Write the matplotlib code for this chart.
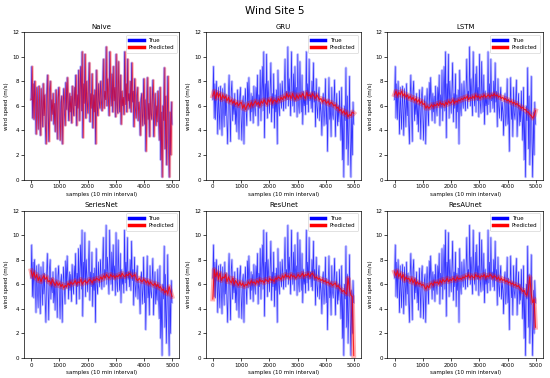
import numpy as np
import matplotlib.pyplot as plt

# true wind speed, one value every 25 samples
true_speed = [
    6.5, 9.2, 5.0, 7.8, 4.9, 8.0, 6.2, 3.7, 7.5, 5.5,
    4.1, 7.6, 5.8, 3.6, 7.4, 6.0, 4.3, 7.8, 5.2, 6.9,
    4.5, 2.9, 6.8, 8.5, 5.5, 3.1, 7.2, 8.0, 4.8, 6.5,
    5.3, 7.0, 4.5, 6.2, 3.9, 7.3, 5.8, 3.3, 6.7, 7.5,
    5.0, 3.2, 6.3, 6.8, 2.9, 5.9, 7.4, 5.6, 4.4, 7.9,
    5.7, 8.3, 6.4, 4.8, 7.0, 5.5, 6.8, 4.6, 7.6, 5.9,
    5.2, 7.5, 6.0, 8.5, 4.4, 6.9, 5.8, 8.9, 4.8, 7.3,
    9.2, 5.6, 10.4, 3.4, 7.8, 6.2, 10.2, 5.0, 8.0, 6.5,
    5.4, 7.6, 9.5, 4.7, 7.0, 5.8, 8.6, 4.2, 6.9, 5.5,
    7.3, 2.9, 8.9, 6.0, 5.2, 7.8, 6.4, 5.8, 8.0, 6.6,
    5.6, 7.5, 9.8, 5.8, 7.2, 6.5, 10.8, 6.0, 8.2, 6.8,
    5.2, 10.4, 7.0, 6.0, 8.6, 5.5, 9.2, 6.4, 7.5, 5.1,
    10.2, 6.2, 5.4, 9.6, 6.8, 5.5, 8.5, 4.5, 7.2, 6.0,
    6.7, 5.3, 10.4, 6.1, 7.8, 5.5, 9.8, 6.4, 7.0, 5.8,
    8.0, 5.5, 9.5, 6.3, 7.2, 4.3, 8.2, 6.0, 5.0, 6.8,
    7.5, 4.8, 6.3, 5.5, 3.6, 6.5, 7.0, 4.4, 5.6, 8.2,
    4.5, 6.5, 2.3, 5.8, 8.3, 4.9, 6.2, 3.5, 7.5, 5.4,
    4.9, 6.6, 8.1, 3.5, 5.5, 7.0, 4.4, 6.0, 4.7, 7.2,
    5.0, 3.2, 7.5, 1.6, 5.5, 0.2, 6.0, 4.8, 9.1, 2.5,
    6.8, 1.2, 4.0, 8.4, 3.0, 0.2, 5.5, 2.0, 6.3, 4.5,
]

# naive forecast = previous observation
naive_pred = [true_speed[0]] + true_speed[:-1]

# model predictions, one value every 50 samples
gru_pred = [
    6.8, 7.2, 6.6, 7.1, 6.7, 7.0, 6.5, 6.9, 6.6, 6.8,
    6.4, 6.7, 6.3, 6.5, 6.2, 6.4, 6.1, 6.3, 6.0, 6.2,
    6.3, 5.8, 6.1, 5.7, 6.0, 6.2, 5.9, 6.3, 6.0, 6.2,
    6.4, 6.1, 6.3, 6.0, 6.4, 6.2, 6.5, 6.3, 6.1, 6.5,
    6.3, 6.6, 6.2, 6.5, 6.4, 6.3, 6.6, 6.4, 6.7, 6.5,
    6.8, 6.6, 7.0, 6.7, 6.9, 6.6, 7.0, 6.7, 6.5, 6.9,
    6.6, 6.9, 6.7, 7.0, 6.8, 6.6, 7.1, 6.8, 6.9, 6.7,
    7.0, 6.8, 6.6, 6.9, 6.7, 6.5, 6.6, 6.3, 6.5, 6.4,
    6.2, 6.4, 6.1, 6.3, 6.2, 6.0, 6.1, 5.8, 5.9, 5.6,
    5.7, 5.4, 5.6, 5.3, 5.5, 5.1, 5.3, 5.2, 5.5, 5.4,
]
lstm_pred = [
    6.9, 7.2, 6.8, 7.1, 6.9, 7.2, 6.8, 7.0, 6.7, 6.9,
    6.6, 6.8, 6.5, 6.7, 6.4, 6.6, 6.3, 6.5, 6.2, 6.4,
    6.1, 6.2, 5.8, 6.0, 5.8, 5.9, 6.1, 5.9, 6.1, 6.0,
    6.2, 6.0, 6.3, 6.1, 6.2, 6.0, 6.3, 6.1, 6.4, 6.2,
    6.3, 6.5, 6.2, 6.4, 6.3, 6.5, 6.4, 6.6, 6.5, 6.7,
    6.6, 6.8, 6.5, 6.7, 6.6, 6.8, 6.6, 6.9, 6.7, 6.8,
    6.6, 6.8, 6.7, 6.9, 6.7, 6.8, 6.9, 6.7, 6.9, 6.8,
    7.0, 6.8, 6.9, 6.7, 6.8, 6.6, 6.7, 6.5, 6.6, 6.4,
    6.5, 6.3, 6.4, 6.2, 6.3, 6.1, 6.2, 6.0, 6.0, 5.8,
    5.9, 5.7, 5.7, 5.5, 5.5, 5.3, 5.2, 5.0, 5.2, 5.6,
]
seriesnet_pred = [
    7.1, 6.6, 7.0, 6.5, 6.8, 6.3, 6.6, 6.2, 6.5, 6.7,
    6.4, 6.6, 6.2, 6.3, 6.0, 6.4, 6.1, 5.9, 6.2, 5.9,
    6.1, 5.8, 6.0, 5.7, 5.9, 5.8, 6.1, 5.9, 6.2, 6.0,
    6.1, 6.3, 6.0, 6.2, 6.1, 6.4, 6.0, 6.2, 6.3, 6.1,
    6.2, 6.4, 6.3, 6.1, 6.4, 6.3, 6.5, 6.4, 6.3, 6.6,
    6.4, 6.7, 6.5, 6.8, 6.6, 6.5, 6.8, 6.6, 6.7, 6.5,
    6.7, 6.6, 6.8, 6.6, 6.9, 6.7, 6.6, 6.8, 6.7, 6.9,
    6.8, 6.6, 6.7, 6.8, 6.4, 6.3, 6.5, 6.3, 6.2, 6.4,
    6.3, 6.1, 6.3, 6.0, 6.2, 6.0, 5.9, 6.1, 5.8, 6.0,
    5.7, 5.8, 5.5, 5.6, 5.3, 5.5, 5.2, 5.8, 5.4, 5.0,
]
resunet_pred = [
    4.8, 7.2, 6.6, 7.0, 6.4, 6.9, 6.3, 6.6, 6.5, 6.8,
    6.2, 6.6, 6.3, 6.1, 6.5, 6.0, 6.3, 6.1, 5.9, 6.2,
    5.9, 6.1, 5.8, 6.0, 5.9, 6.2, 6.0, 6.3, 6.1, 6.2,
    6.0, 6.3, 6.1, 6.4, 6.2, 6.3, 6.1, 6.4, 6.3, 6.2,
    6.5, 6.3, 6.4, 6.2, 6.5, 6.4, 6.6, 6.5, 6.4, 6.7,
    6.5, 6.8, 6.6, 6.7, 6.5, 6.8, 6.6, 6.7, 6.5, 6.6,
    6.8, 6.6, 6.7, 6.9, 6.6, 6.8, 6.7, 6.9, 6.6, 6.8,
    6.9, 6.7, 6.5, 6.6, 6.4, 6.5, 6.3, 6.4, 6.2, 6.3,
    6.1, 6.2, 6.0, 6.1, 5.9, 6.0, 6.1, 5.8, 5.9, 5.7,
    5.6, 5.4, 5.5, 5.3, 5.2, 6.5, 5.6, 5.1, 5.0, 0.2,
]
resaunet_pred = [
    7.0, 6.7, 7.1, 6.6, 6.9, 6.5, 6.8, 6.3, 6.6, 6.4,
    6.5, 6.2, 6.5, 6.1, 6.4, 6.0, 6.2, 6.0, 6.1, 5.9,
    6.0, 5.8, 5.6, 5.9, 5.7, 6.0, 6.1, 5.9, 6.2, 6.1,
    6.2, 6.0, 6.3, 6.1, 6.4, 6.2, 6.3, 6.5, 6.2, 6.4,
    6.3, 6.5, 6.4, 6.3, 6.6, 6.4, 6.5, 6.4, 6.6, 6.5,
    6.7, 6.6, 6.8, 6.5, 6.7, 6.6, 6.5, 6.8, 6.6, 6.7,
    6.5, 6.7, 6.6, 6.8, 6.5, 6.7, 6.6, 6.8, 6.7, 6.5,
    6.7, 6.6, 6.4, 6.6, 6.3, 6.5, 6.3, 6.4, 6.2, 6.3,
    6.1, 6.2, 6.0, 6.1, 5.9, 6.0, 5.8, 5.9, 5.7, 5.6,
    5.4, 5.5, 5.2, 5.1, 5.6, 6.6, 5.2, 4.5, 4.8, 2.5,
]

model_names = ['Naive', 'GRU', 'LSTM', 'SeriesNet', 'ResUnet', 'ResAUnet']
predictions = [naive_pred, gru_pred, lstm_pred, seriesnet_pred, resunet_pred, resaunet_pred]

x_true = np.linspace(0, 4990, len(true_speed))

fig, axes = plt.subplots(2, 3, figsize=(5.5, 3.78), dpi=100)
fig.suptitle('Wind Site 5', fontsize=7.5, y=0.985)

for ax, name, pred in zip(axes.flat, model_names, predictions):
    x_pred = np.linspace(0, 4990, len(pred))
    ax.plot(x_true, true_speed, color='blue', linewidth=1.8, alpha=0.22, label='True')
    ax.plot(x_true, true_speed, color='blue', linewidth=0.5, alpha=0.75)
    if name == 'Naive':
        ax.plot(x_pred, pred, color='red', linewidth=1.8, alpha=0.22, label='Predicted')
        ax.plot(x_pred, pred, color='red', linewidth=0.5, alpha=0.6)
    else:
        ax.plot(x_pred, pred, color='red', linewidth=3.5, alpha=0.3, label='Predicted')
        ax.plot(x_pred, pred, color='red', linewidth=0.8, alpha=0.8)
    ax.set_title(name, fontsize=5, pad=2.5)
    ax.set_ylim(0, 12)
    ax.set_xlim(-250, 5250)
    ax.set_xticks([0, 1000, 2000, 3000, 4000, 5000])
    ax.set_yticks([0, 2, 4, 6, 8, 10, 12])
    ax.tick_params(labelsize=4, length=2, width=0.5, pad=1.5)
    for s in ax.spines.values():
        s.set_linewidth(0.5)
    ax.set_xlabel('samples (10 min interval)', fontsize=4, labelpad=1.5)
    ax.set_ylabel('wind speed (m/s)', fontsize=4, labelpad=2)
    leg = ax.legend(loc='upper right', fontsize=4, handlelength=2.6, borderpad=0.5,
                    labelspacing=0.4, framealpha=0.8, borderaxespad=0.5)
    leg.get_frame().set_linewidth(0.5)
    for h in leg.get_lines():
        h.set_linewidth(2.5)
        h.set_alpha(1)

plt.subplots_adjust(left=0.0436, right=0.987, top=0.915, bottom=0.053, wspace=0.17, hspace=0.21)
plt.savefig('out.png', dpi=100)
